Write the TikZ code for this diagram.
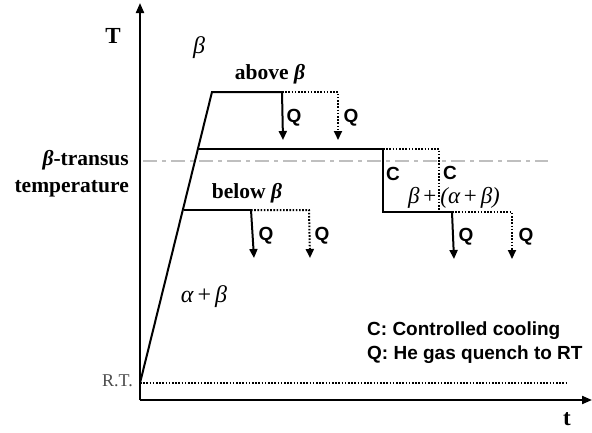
\documentclass[tikz,border=0pt]{standalone}
\usepackage{fontspec}
\setmainfont{Liberation Serif}
\newfontfamily\arial{Liberation Sans}
\usetikzlibrary{arrows.meta}
\begin{document}
\begin{tikzpicture}[x=1pt,y=-1pt,
  solidline/.style={line width=2pt,line join=miter},
  dotline/.style={line width=2pt,dash pattern=on 1.6pt off 1.6pt},
  qarrow/.style={-{Triangle[length=9pt,width=8pt]}},
  axis/.style={line width=2pt,-{Triangle[length=10pt,width=8pt]}},
  sflab/.style={font=\arial\bfseries\fontsize{19}{21}\selectfont,inner sep=0pt},
  serlab/.style={font=\bfseries\fontsize{21.5}{27}\selectfont,inner sep=0pt},
  greek/.style={font=\itshape\fontsize{24}{26}\selectfont,inner sep=0pt}]
\useasboundingbox (0,0) rectangle (592,432);
% coordinates
\coordinate (O) at (140,400);
\coordinate (Ytop) at (140,3);
\coordinate (Xend) at (592,400);
\coordinate (RT) at (140,383);
\coordinate (RTend) at (568,383);
\coordinate (Ptop) at (212,92);
\coordinate (A1) at (282,92);
\coordinate (A1e) at (283,140);
\coordinate (A2) at (338,92);
\coordinate (A2e) at (338,140);
\coordinate (Pmid) at (198,149);
\coordinate (M1) at (383,149);
\coordinate (M1d) at (383,212);
\coordinate (M2) at (452,212);
\coordinate (M2e) at (454,259);
\coordinate (N1) at (439,149);
\coordinate (N1d) at (439,212);
\coordinate (N2) at (512,212);
\coordinate (N2e) at (512,259);
\coordinate (Plow) at (184,210);
\coordinate (L1) at (251,210);
\coordinate (L1e) at (254,258);
\coordinate (L2) at (309,210);
\coordinate (L2e) at (310,258);
\coordinate (Ds) at (143,161);
\coordinate (De) at (548,161);
% transus line
\draw[line width=1.6pt,color=black!25,dash pattern=on 14pt off 5pt on 4pt off 5pt] (Ds) -- (De);
% axes
\draw[axis] (O) -- (Ytop);
\draw[axis] (O) -- (Xend);
% RT line
\draw[dotline] (RT) -- (RTend);
% ramp
\draw[solidline] (RT) -- (Ptop) -- (A1);
\draw[solidline] (Pmid) -- (M1) -- (M1d) -- (M2);
\draw[solidline] (Plow) -- (L1);
% quenches
\draw[solidline,qarrow] (A1) -- (A1e);
\draw[dotline,qarrow] (A1) -- (A2) -- (A2e);
\draw[solidline,qarrow] (L1) -- (L1e);
\draw[dotline,qarrow] (L1) -- (L2) -- (L2e);
\draw[solidline,qarrow] (M2) -- (M2e);
\draw[dotline] (M1) -- (N1) -- (N1d);
\draw[dotline,qarrow] (M2) -- (N2) -- (N2e);
% labels
\node[serlab,font=\bfseries\fontsize{23}{24}\selectfont] (lT) at (113,36) {T};
\node[serlab,font=\bfseries\fontsize{23}{24}\selectfont] (lt) at (567,419) {t};
\node[greek] (lbeta) at (199,48) {β};
\node[serlab] (labove) at (270,74) {above \textit{β}};
\node[serlab] (lbelow) at (247,193) {below \textit{β}};
\node[serlab,align=right,anchor=east] (ltransus) at (129,174) {\textit{β}-transus\\temperature};
\node[greek] (lab) at (204,297) {α\,\upshape+\,\itshape β};
\node[greek,font=\itshape\fontsize{23}{25}\selectfont] (lmix) at (454,198) {β\,\upshape+\hspace{4pt}\itshape(α\,\upshape+\,\itshape β)};
\node[font=\fontsize{18}{19}\selectfont,text=black!70,anchor=east,inner sep=0pt] (lRT) at (133,381) {R.T.};
\node[sflab] (c1) at (393,174) {C};
\node[sflab] (c2) at (450,173) {C};
\node[sflab] (q1) at (294,118) {Q};
\node[sflab] (q2) at (351,118) {Q};
\node[sflab] (q3) at (266,236) {Q};
\node[sflab] (q4) at (322,236) {Q};
\node[sflab] (q5) at (466,237) {Q};
\node[sflab] (q6) at (526,237) {Q};
\node[sflab,font=\arial\bfseries\fontsize{19}{24}\selectfont,align=left,anchor=west] (legend) at (367,343) {C: Controlled cooling\\Q: He gas quench to RT};
\end{tikzpicture}
\end{document}
